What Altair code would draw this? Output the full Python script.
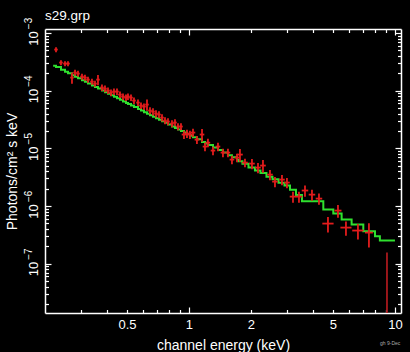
import altair as alt
import pandas as pd

# ---- data ----
energy = [0.2262, 0.2391, 0.2501, 0.2586, 0.2704, 0.2797, 0.2892, 0.3024, 0.3126, 0.3233,
          0.3381, 0.3497, 0.3616, 0.3781, 0.3910, 0.4044, 0.4182, 0.4324, 0.4472, 0.4624,
          0.4782, 0.4945, 0.5057, 0.5230, 0.5408, 0.5656, 0.5848, 0.6048, 0.6254, 0.6467,
          0.6688, 0.6916, 0.7152, 0.7396, 0.7648, 0.7909, 0.8270, 0.8552, 0.8843, 0.9145,
          0.9456, 0.9779, 1.011, 1.046, 1.093, 1.157, 1.196, 1.236, 1.308, 1.383,
          1.462, 1.546, 1.617, 1.710, 1.768, 1.870, 2.022, 2.163, 2.287, 2.473,
          2.615, 2.828, 2.990, 3.199, 3.420, 3.658, 3.955, 4.277, 4.729, 5.289,
          5.783, 6.612, 7.477, 9.147]
flux = [5.14e-4, 3.06e-4, 2.94e-4, 2.94e-4, 1.68e-4, 2.05e-4, 1.97e-4, 1.75e-4, 1.68e-4, 1.55e-4,
        1.43e-4, 1.32e-4, 1.55e-4, 1.13e-4, 1.08e-4, 1.00e-4, 9.23e-5, 9.61e-5, 9.61e-5, 8.52e-5,
        7.87e-5, 7.56e-5, 7.87e-5, 7.56e-5, 6.71e-5, 6.19e-5, 5.50e-5, 5.28e-5, 5.72e-5, 4.50e-5,
        4.32e-5, 3.99e-5, 3.84e-5, 3.40e-5, 3.02e-5, 2.90e-5, 2.68e-5, 2.79e-5, 2.38e-5, 2.38e-5,
        1.73e-5, 1.80e-5, 1.73e-5, 1.87e-5, 1.41e-5, 1.73e-5, 1.07e-5, 1.25e-5, 9.11e-6, 1.07e-5,
        8.41e-6, 8.41e-6, 6.36e-6, 6.89e-6, 7.77e-6, 5.64e-6, 5.42e-6, 4.62e-6, 5.01e-6, 3.49e-6,
        2.64e-6, 2.86e-6, 2.54e-6, 1.45e-6, 1.45e-6, 1.85e-6, 1.57e-6, 1.34e-6, 4.94e-7, 8.30e-7,
        4.21e-7, 3.74e-7, 3.45e-7, 5e-9]
# relative 1-sigma flux errors
flux_err = [0.10, 0.10, 0.10, 0.10, 0.22, 0.12, 0.12, 0.12, 0.12, 0.12,
            0.12, 0.12, 0.20, 0.13, 0.13, 0.13, 0.13, 0.13, 0.13, 0.13,
            0.13, 0.13, 0.13, 0.13, 0.13, 0.13, 0.13, 0.13, 0.22, 0.14,
            0.14, 0.14, 0.14, 0.14, 0.14, 0.14, 0.14, 0.14, 0.14, 0.14,
            0.16, 0.16, 0.16, 0.16, 0.16, 0.25, 0.17, 0.17, 0.17, 0.17,
            0.17, 0.17, 0.17, 0.17, 0.25, 0.17, 0.20, 0.20, 0.25, 0.20,
            0.20, 0.20, 0.20, 0.22, 0.22, 0.22, 0.22, 0.22, 0.30, 0.25,
            0.28, 0.30, 0.45, 30.0]
# relative half bin widths
bin_half = [0.02, 0.02, 0.02, 0.02, 0.02, 0.02, 0.02, 0.02, 0.02, 0.02,
            0.02, 0.02, 0.02, 0.02, 0.02, 0.02, 0.02, 0.02, 0.02, 0.02,
            0.02, 0.02, 0.02, 0.02, 0.02, 0.02, 0.02, 0.02, 0.02, 0.02,
            0.02, 0.02, 0.02, 0.02, 0.02, 0.02, 0.02, 0.02, 0.02, 0.02,
            0.026, 0.026, 0.026, 0.026, 0.026, 0.026, 0.026, 0.026, 0.026, 0.026,
            0.026, 0.026, 0.026, 0.026, 0.032, 0.032, 0.032, 0.032, 0.032, 0.032,
            0.032, 0.032, 0.032, 0.037, 0.037, 0.037, 0.037, 0.037, 0.065, 0.04,
            0.064, 0.066, 0.045, 0.085]

# model (step, value holds from each edge to the next)
model_edge = [0.219, 0.2262, 0.2391, 0.2501, 0.2586, 0.2704, 0.2797, 0.2892, 0.3024, 0.3126,
              0.3233, 0.3381, 0.3497, 0.3616, 0.3781, 0.3910, 0.4044, 0.4182, 0.4324, 0.4472,
              0.4624, 0.4782, 0.4945, 0.5057, 0.5230, 0.5408, 0.5656, 0.5848, 0.6048, 0.6254,
              0.6467, 0.6688, 0.6916, 0.7152, 0.7396, 0.7648, 0.7909, 0.8270, 0.8552, 0.8843,
              0.9145, 0.9456, 0.9779, 1.011, 1.046, 1.093, 1.157, 1.196, 1.236, 1.308,
              1.383, 1.462, 1.546, 1.617, 1.710, 1.738, 1.818, 1.945, 2.091, 2.224,
              2.378, 2.543, 2.720, 2.908, 3.093, 3.307, 3.536, 4.49, 5.02, 5.51,
              6.16, 7.02, 8.0, 8.45, 10.0]
model_val = [2.71e-4, 2.56e-4, 2.31e-4, 2.13e-4, 2.00e-4, 1.85e-4, 1.74e-4, 1.63e-4, 1.51e-4, 1.42e-4,
             1.33e-4, 1.23e-4, 1.15e-4, 1.085e-4, 1.0e-4, 9.40e-5, 8.84e-5, 8.31e-5, 7.82e-5, 7.35e-5,
             6.92e-5, 6.50e-5, 6.12e-5, 5.87e-5, 5.53e-5, 5.20e-5, 4.79e-5, 4.50e-5, 4.23e-5, 3.98e-5,
             3.75e-5, 3.52e-5, 3.31e-5, 3.11e-5, 2.93e-5, 2.76e-5, 2.59e-5, 2.39e-5, 2.25e-5, 2.11e-5,
             1.99e-5, 1.87e-5, 1.76e-5, 1.65e-5, 1.55e-5, 1.43e-5, 1.29e-5, 1.215e-5, 1.14e-5, 1.03e-5,
             9.32e-6, 8.41e-6, 7.60e-6, 7.00e-6, 6.32e-6, 5.94e-6, 5.37e-6, 4.65e-6, 4.11e-6, 3.71e-6,
             3.22e-6, 2.90e-6, 2.52e-6, 2.27e-6, 1.90e-6, 1.55e-6, 1.21e-6, 8.65e-7, 7.36e-7, 5.79e-7,
             4.75e-7, 3.63e-7, 2.98e-7, 2.51e-7, 2.51e-7]

x_label_ticks = [0.5, 1, 2, 5, 10]
x_major = [1, 10]
x_minor = [0.3, 0.4, 0.5, 0.6, 0.7, 0.8, 0.9, 2, 3, 4, 5, 6, 7, 8, 9]
y_major = [1e-7, 1e-6, 1e-5, 1e-4, 1e-3]
y_minor = [float(f"{m}e{k}") for k in range(-8, -3) for m in range(2, 10)]
y_minor = [v for v in y_minor if v >= 1.4e-8]

data = pd.DataFrame(dict(energy=energy, flux=flux, ferr=flux_err, xw=bin_half))
model = pd.DataFrame(dict(e=model_edge, f=model_val))

W, H = 356, 284
FONT = "Liberation Sans"
RED = "#e21c1c"
GREEN = "#2fe02f"

def xs():
    return alt.Scale(type="log", domain=[0.2, 10.7], nice=False)

def ys():
    return alt.Scale(type="log", domain=[1.39e-8, 1.17e-3], nice=False)

def tick_axis(orient, values, size, offset, domain=False):
    return alt.Axis(orient=orient, values=values, tickSize=size, offset=offset,
                    labels=False, title=None, domain=domain, domainColor="white",
                    domainWidth=1.5, tickColor="white", tickWidth=1.2, grid=False)

exp_expr = ("datum.value > 5e-4 ? '\u22123' : datum.value > 5e-5 ? '\u22124' : "
            "datum.value > 5e-6 ? '\u22125' : datum.value > 5e-7 ? '\u22126' : '\u22127'")

y_main_axis = alt.Axis(orient="left", values=y_major, labelExpr="'10'",
                       labelAngle=270, labelAlign="center", labelBaseline="bottom",
                       labelOffset=5, labelPadding=5, ticks=False, tickSize=0,
                       labelColor="white", labelFont=FONT, labelFontSize=13,
                       domain=True, domainColor="white", domainWidth=1.5, grid=False,
                       title="Photons/cm\u00b2 s keV", titleColor="white", titleFont=FONT,
                       titleFontSize=14, titleFontWeight="normal", titlePadding=8)
y_exp_axis = alt.Axis(orient="left", values=y_major, labelExpr=exp_expr,
                      labelAngle=270, labelAlign="center", labelBaseline="bottom",
                      labelOffset=-10, labelPadding=12, ticks=False, tickSize=0,
                      labelColor="white", labelFont=FONT, labelFontSize=10,
                      domain=False, grid=False, title=None)
x_main_axis = alt.Axis(orient="bottom", values=x_label_ticks, format="~g",
                       labelPadding=5, ticks=False, tickSize=0, labelColor="white",
                       labelFont=FONT, labelFontSize=13, domain=True, domainColor="white",
                       domainWidth=1.5, grid=False,
                       title="channel energy (keV)", titleColor="white", titleFont=FONT,
                       titleFontSize=14, titleFontWeight="normal", titlePadding=7)

model_line = alt.Chart(model).mark_line(interpolate="step-after", color=GREEN,
                                         strokeWidth=2, clip=True).encode(
    x=alt.X("e:Q", scale=xs(), axis=x_main_axis),
    y=alt.Y("f:Q", scale=ys(), axis=y_main_axis),
)

base = alt.Chart(data).transform_calculate(
    xlo="datum.energy / (1 + datum.xw)",
    xhi="datum.energy * (1 + datum.xw)",
    ylo="max(datum.flux * (1 - datum.ferr), 1e-10)",
    yhi="datum.flux * (1 + datum.ferr)",
)
col = alt.condition("datum.flux < 1e-8", alt.value("#a8181c"), alt.value(RED))

xerr = base.mark_rule(strokeWidth=1.8, clip=True).encode(
    x=alt.X("xlo:Q", scale=xs(), axis=tick_axis("top", x_major, 6, -H)),
    x2="xhi:Q",
    y=alt.Y("flux:Q", scale=ys(), axis=tick_axis("right", y_major, 6, -W)),
    color=col,
)
yerr = base.mark_rule(strokeWidth=1.8, clip=True).encode(
    x=alt.X("energy:Q", scale=xs(), axis=tick_axis("top", x_minor, 3.5, -H)),
    y=alt.Y("ylo:Q", scale=ys(), axis=tick_axis("right", y_minor, 3.5, -W)),
    y2="yhi:Q",
    color=col,
)
frame_major = alt.Chart(model).mark_point(opacity=0).encode(
    x=alt.X("e:Q", scale=xs(), axis=tick_axis("bottom", x_major, 6, -H, True)),
    y=alt.Y("f:Q", scale=ys(), axis=tick_axis("left", y_major, 6, -W, True)),
)
frame_minor = alt.Chart(model).mark_point(opacity=0).encode(
    x=alt.X("e:Q", scale=xs(), axis=tick_axis("bottom", x_minor, 3.5, -H)),
    y=alt.Y("f:Q", scale=ys(), axis=tick_axis("left", y_minor, 3.5, -W)),
)
exponents = alt.Chart(model).mark_point(opacity=0).encode(
    x=alt.X("e:Q", scale=xs(), axis=None),
    y=alt.Y("f:Q", scale=ys(), axis=y_exp_axis),
)
stamp = alt.Chart(pd.DataFrame({"t": ["gh  9-Dec"]})).mark_text(
    fontSize=5, color="#aaaaaa", align="left", baseline="middle", font=FONT
).encode(text="t:N", x=alt.value(335), y=alt.value(314))

chart = alt.layer(model_line, xerr, yerr, frame_major, frame_minor, exponents, stamp).resolve_scale(
    x="independent", y="independent"
).properties(
    width=W, height=H,
    background="black",
    padding={"left": 45, "top": 29, "right": 9, "bottom": 39},
    autosize=alt.AutoSizeParams(type="none"),
    title=alt.TitleParams("s29.grp", anchor="start", frame="group", fontSize=13.5,
                          font=FONT, color="white", fontWeight="normal", offset=5, dy=10),
).configure_view(stroke=None)

chart.save("out.html", embed_options={"renderer": "svg", "actions": False})
